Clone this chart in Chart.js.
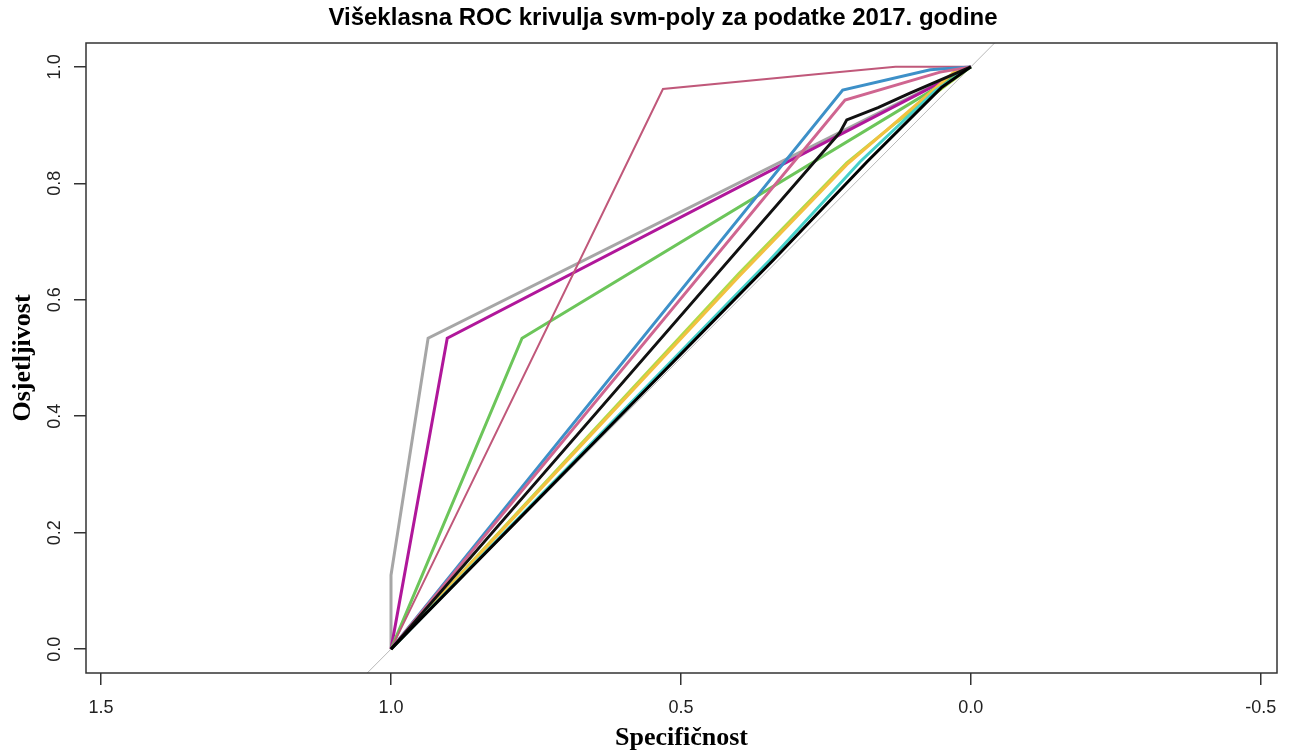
<!DOCTYPE html>
<html>
<head>
<meta charset="utf-8">
<script src="https://cdn.jsdelivr.net/npm/chart.js@4.4.1/dist/chart.umd.min.js"></script>
<style>
  html, body { margin: 0; padding: 0; background: #fff; }
  canvas { display: block; }
</style>
</head>
<body>
<canvas id="roc" width="1293" height="754"></canvas>
<script>
// tick labels
const xTicks = [1.5, 1.0, 0.5, 0.0, -0.5];
const yTicks = [0.0, 0.2, 0.4, 0.6, 0.8, 1.0];

// reference diagonal (sensitivity = 1 - specificity)
const diagSpec = [1.1, -0.1];
const diagSens = [-0.1, 1.1];

// one curve per class
const specGray = [1, 1, 0.936, 0];
const sensGray = [0, 0.127, 0.534, 1];

const specPurple = [1, 0.903, 0];
const sensPurple = [0, 0.534, 1];

const specGreen = [1, 0.774, 0];
const sensGreen = [0, 0.534, 1];

const specLime = [1, 0.4, 0.214, 0.128, 0];
const sensLime = [0, 0.645, 0.835, 0.905, 1];

const specGold = [1, 0.4, 0.214, 0.03, 0];
const sensGold = [0, 0.64, 0.832, 0.99, 1];

const specCyan = [1, 0.347, 0.191, 0.06, 0];
const sensCyan = [0, 0.668, 0.837, 0.96, 1];

const specRose = [1, 0.531, 0.24, 0.13, 0];
const sensRose = [0, 0.962, 0.99, 1, 1];

const specBlue = [1, 0.221, 0.07, 0];
const sensBlue = [0, 0.96, 0.995, 1];

const specMauve = [1, 0.217, 0.053, 0];
const sensMauve = [0, 0.943, 0.991, 1];

const specBlack = [1, 0.226, 0.214, 0.16, 0.105, 0];
const sensBlack = [0, 0.887, 0.909, 0.93, 0.955, 1];

const specBlackThick = [1, 0.341, 0.179, 0.05, 0];
const sensBlackThick = [0, 0.668, 0.837, 0.965, 1];

function pts(spec, sens) {
  return spec.map((s, i) => ({ x: s, y: sens[i] }));
}

function curve(spec, sens, color, width) {
  return {
    data: pts(spec, sens),
    borderColor: color,
    borderWidth: width,
    showLine: true,
    pointRadius: 0,
    tension: 0,
    fill: false
  };
}

// first dataset is drawn on top
const datasets = [
  curve(specBlackThick, sensBlackThick, "#000000", 3),
  curve(specBlack, sensBlack, "#111111", 3),
  curve(specMauve, sensMauve, "#cf6590", 3),
  curve(specBlue, sensBlue, "#3d90c8", 3),
  curve(specRose, sensRose, "#c0587a", 2),
  curve(specCyan, sensCyan, "#45cfc8", 3),
  curve(specGold, sensGold, "#f3c140", 3),
  curve(specLime, sensLime, "#aedb4a", 3),
  curve(specGreen, sensGreen, "#6cc55a", 3),
  curve(specPurple, sensPurple, "#b0179a", 3),
  curve(specGray, sensGray, "#a6a6a6", 3),
  curve(diagSpec, diagSens, "#b8b8b8", 1)
];

const boxAndText = {
  id: "boxAndText",
  afterDraw(chart) {
    const ctx = chart.ctx;
    const a = chart.chartArea;
    ctx.save();
    ctx.strokeStyle = "#333";
    ctx.lineWidth = 1.5;
    ctx.strokeRect(a.left, a.top, a.right - a.left, a.bottom - a.top);

    // y tick labels, rotated like R
    const ys = chart.scales.y;
    ctx.fillStyle = "#222";
    ctx.font = "18px 'Liberation Sans', Arial, sans-serif";
    ctx.textAlign = "center";
    ctx.textBaseline = "middle";
    yTicks.forEach(v => {
      const py = ys.getPixelForValue(v);
      ctx.save();
      ctx.translate(55, py);
      ctx.rotate(-Math.PI / 2);
      ctx.fillText(v.toFixed(1), 0, 0);
      ctx.restore();
    });

    // title
    ctx.fillStyle = "#000";
    ctx.font = "bold 24px 'Liberation Sans', Arial, sans-serif";
    ctx.fillText("Višeklasna ROC krivulja svm-poly za podatke 2017. godine", 663, 18);
    ctx.restore();
  }
};

new Chart(document.getElementById("roc"), {
  type: "scatter",
  data: { datasets },
  options: {
    responsive: false,
    animation: false,
    devicePixelRatio: 1,
    layout: { padding: { left: 0, right: 16, top: 43, bottom: 0 } },
    plugins: {
      legend: { display: false },
      tooltip: { enabled: false },
      title: { display: false }
    },
    scales: {
      x: {
        type: "linear",
        reverse: true,
        min: -0.528,
        max: 1.526,
        afterBuildTicks: s => { s.ticks = xTicks.map(v => ({ value: v })); },
        afterFit: s => { s.height = 81; },
        border: { display: false },
        grid: { drawOnChartArea: false, drawTicks: true, tickLength: 12, color: "#333", lineWidth: 1.5 },
        ticks: {
          color: "#222",
          padding: 12,
          maxRotation: 0,
          autoSkip: false,
          font: { family: "'Liberation Sans', Arial, sans-serif", size: 18 },
          callback: v => v.toFixed(1)
        },
        title: {
          display: true,
          text: "Specifičnost",
          color: "#000",
          padding: { top: 0, bottom: 0 },
          font: { family: "'Liberation Serif', 'Times New Roman', serif", size: 26, weight: "bold" }
        }
      },
      y: {
        type: "linear",
        min: -0.041,
        max: 1.041,
        afterBuildTicks: s => { s.ticks = yTicks.map(v => ({ value: v })); },
        afterFit: s => { s.width = 86; },
        border: { display: false },
        grid: { drawOnChartArea: false, drawTicks: true, tickLength: 12, color: "#333", lineWidth: 1.5 },
        ticks: { display: false },
        title: {
          display: true,
          text: "Osjetljivost",
          color: "#000",
          padding: { top: 8, bottom: 0 },
          font: { family: "'Liberation Serif', 'Times New Roman', serif", size: 26, weight: "bold" }
        }
      }
    }
  },
  plugins: [boxAndText]
});
</script>
</body>
</html>
